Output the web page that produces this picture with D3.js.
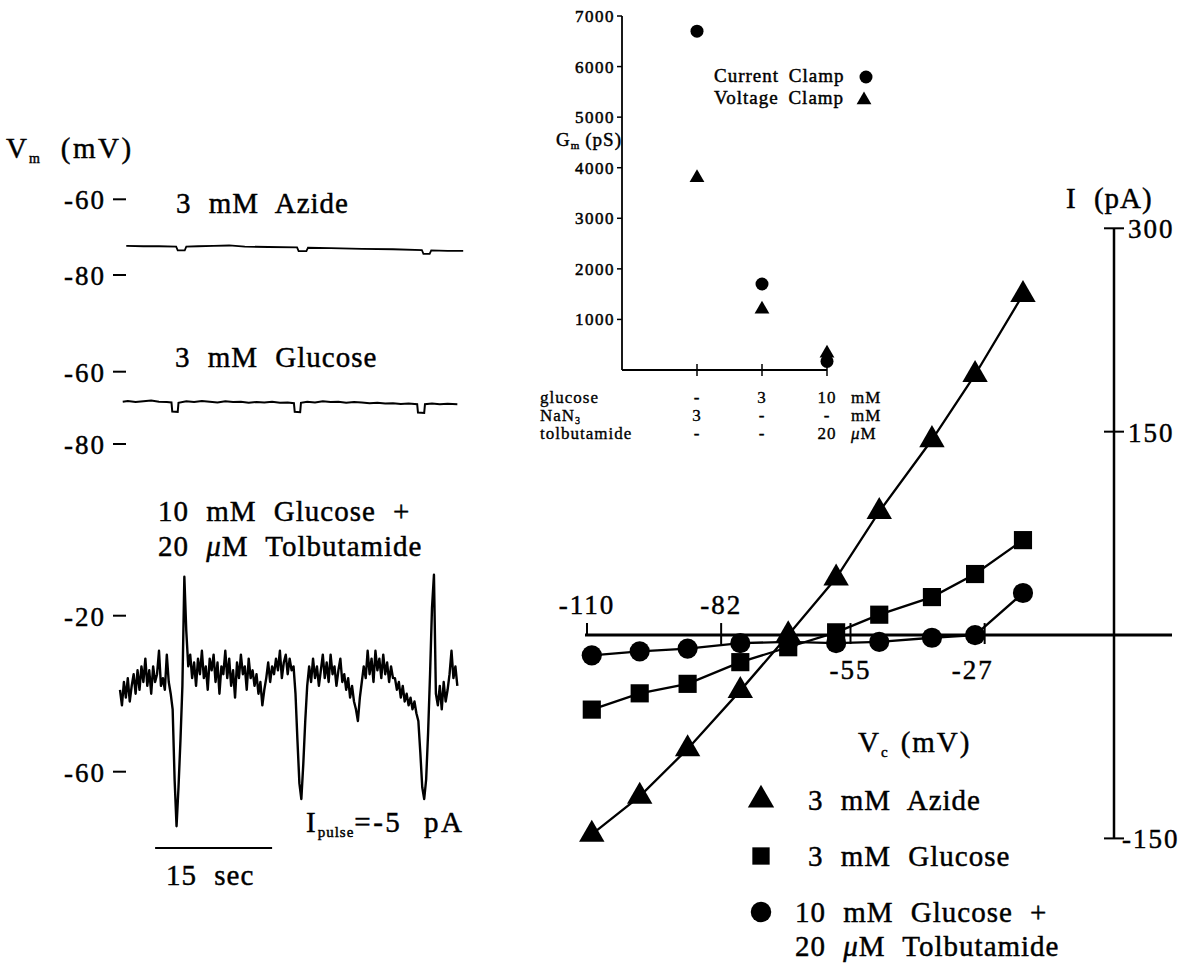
<!DOCTYPE html>
<html>
<head>
<meta charset="utf-8">
<script src="https://cdn.jsdelivr.net/npm/d3@7"></script>
<style>
  body { margin: 0; background: #fff; }
  svg { display: block; }
  text { font-family: "Liberation Serif", "Times New Roman", "DejaVu Serif", serif; fill: #000; stroke: #000; stroke-width: 0.45px; }
  .big { font-size: 29px; letter-spacing: 1px; word-spacing: 9px; }
  .num { font-size: 27px; letter-spacing: 2px; }
  .small { font-size: 19px; letter-spacing: 1px; word-spacing: 4px; }
  .table { font-size: 17px; letter-spacing: 1px; word-spacing: 3px; stroke-width: 0.35px; }
  .tick { font-size: 17px; letter-spacing: 1.5px; stroke-width: 0.5px; }
</style>
</head>
<body>
<svg id="chart" width="1202" height="964"></svg>
<script>
// ---- left panel: membrane potential traces, [time s, Vm mV] ----
const azideTrace = [[0.8,-72.3],[3,-72.4],[5,-72.4],[7.2,-72.5],[7.4,-73.5],[8.3,-73.5],[8.5,-72.5],[10,-72.4],
  [12,-72.3],[14,-72.2],[16,-72.5],[19,-72.6],[22.7,-72.7],[22.9,-73.7],[23.9,-73.7],[24.1,-72.8],[27,-72.9],
  [31,-73.1],[35,-73.2],[38.7,-73.4],[38.9,-74.4],[39.7,-74.4],[39.9,-73.5],[42,-73.6],[44,-73.6]];

const glucoseTrace = [[0.35,-68.3],[1,-68.1],[2,-68.4],[3,-68.2],[4,-68.0],[5,-68.3],[6,-68.4],[6.6,-68.5],
  [6.7,-71.0],[7.4,-71.1],[7.5,-68.6],[8.5,-68.2],[9.5,-68.4],[10.5,-68.1],[11.5,-68.3],[12.5,-68.5],[13.5,-68.2],
  [14.5,-68.4],[15.5,-68.3],[16.5,-68.6],[17.5,-68.4],[18.5,-68.5],[19.5,-68.3],[20.5,-68.6],[21.5,-68.5],
  [22.3,-68.7],[22.4,-71.1],[23.1,-71.2],[23.2,-68.6],[24,-68.3],[25,-68.5],[26,-68.2],[27,-68.4],[28,-68.3],
  [29,-68.6],[30,-68.4],[31,-68.5],[32,-68.7],[33,-68.6],[34,-68.8],[35,-68.7],[36,-68.9],[37,-68.8],
  [38.1,-69.0],[38.2,-71.3],[39,-71.4],[39.1,-69.0],[40,-68.8],[41,-69.0],[42,-68.9],[43.25,-69.0]];

// 10 mM glucose + tolbutamide, sampled every tolbStep seconds
const tolbStep = 0.25;
const tolbTrace = [
  -39,-43,-37,-41,-36,-42,-38,-35,-40,-34,-39,-33,-37,-31,-38,-34,-40,-33,-37,-35,-29,-38,-36,-39,-30,-37,-40,
  -44,-62,-74,-64,-52,-38,-10,-24,-33,
  -30,-36,-32,-38,-31,-35,-29,-36,-33,-39,-31,-34,-30,-37,-32,-40,-33,-35,-29,-36,-31,-38,-34,-41,-32,-36,-30,
  -35,-33,-39,-31,-36,-34,-38,-35,-40,-37,-43,-39,-36,-32,-37,-33,-35,-31,-34,-29,-36,-32,-30,-35,-31,-34,-33,
  -40,-52,-63,-67,-58,-47,-38,
  -33,-37,-31,-36,-33,-38,-34,-30,-36,-32,-37,-30,-35,-33,-38,-34,-31,-37,-35,-39,-36,-41,-38,-42,-44,-47,-41,
  -37,-33,-36,-29,-35,-31,-37,-29,-34,-31,-36,-30,-35,-32,-37,-33,-36,
  -36,-39,-37,-41,-38,-42,-40,-43,-41,-44,-42,-45,-47,
  -55,-64,-67,-62,-50,-35,-18,-9.5,-40,-43,
  -38,-44,-37,-42,-39,-35,-29,-36,-33,-38];

const azideTicks = [-60, -80];
const glucoseTicks = [-60, -80];
const tolbTicks = [-20, -60];
const scaleBarSec = [4.5, 19.5];

// ---- right panel: I-V relation ----
const ivVoltage = [-109, -99, -89, -78, -68, -58, -49, -38, -29, -19];
const ivAzide   = [-147, -119, -84, -41, 0, 42, 91, 144, 192, 251];
const ivGlucose = [-55, -43, -36, -20, -9, 2, 15, 28, 45, 70];
const ivTolb    = [-15, -12, -10, -6, -5, -6, -5, -2, 0, 31];
const ivXTicks = [-110, -82, -55, -27];
const ivYTicks = [300, 150, -150];

// ---- inset: membrane conductance ----
const gmConditions = ["azide", "glucose 3", "glucose 10 + tolb"];
const gmCurrentClamp = [6700, 1700, 170];
const gmVoltageClamp = [3800, 1200, 330];
const gmTicks = [1000, 2000, 3000, 4000, 5000, 6000, 7000];
const tableNames = ["glucose", "NaN", "tolbutamide"];
const tableCells = [["-", "3", "10"], ["3", "-", "-"], ["-", "-", "20"]];
const tableUnits = ["mM", "mM", "\u03bcM"];

const svg = d3.select("#chart");

// text with an italic mu
function label(g, x, y, str, cls) {
  const t = g.append("text").attr("class", cls).attr("x", x).attr("y", y);
  const parts = str.split("\u03bc");
  t.append("tspan").text(parts[0]);
  if (parts.length > 1) {
    t.append("tspan").attr("font-style", "italic").text("\u03bc");
    t.append("tspan").text(parts[1]);
  }
  return t;
}

// ===== traces =====
const tX = d3.scaleLinear().domain([0, 44]).range([120, 463.2]);
const azideY = d3.scaleLinear().domain([-80, -60]).range([275, 199.3]);
const glucoseY = d3.scaleLinear().domain([-80, -60]).range([444, 371.7]);
const tolbY = d3.scaleLinear().domain([-60, -20]).range([771.7, 615.7]);

const left = svg.append("g");

const vm = left.append("text").attr("class", "big").attr("x", 6).attr("y", 158);
vm.append("tspan").text("V");
vm.append("tspan").attr("font-size", 14).attr("dy", 5).attr("dx", 1).text("m");
vm.append("tspan").attr("dy", -5).attr("dx", 20).attr("letter-spacing", 2.5).text("(mV)");

function tickLabels(scale, ticks) {
  ticks.forEach(v => {
    left.append("text").attr("class", "num")
      .attr("x", 106).attr("y", scale(v) + 10)
      .attr("text-anchor", "end").text(v);
    left.append("line")
      .attr("x1", 113).attr("x2", 126)
      .attr("y1", scale(v)).attr("y2", scale(v))
      .attr("stroke", "#000").attr("stroke-width", 2);
  });
}
tickLabels(azideY, azideTicks);
tickLabels(glucoseY, glucoseTicks);
tickLabels(tolbY, tolbTicks);

label(left, 176, 213, "3 mM Azide", "big").attr("word-spacing", 13);
label(left, 175, 367, "3 mM Glucose", "big").attr("word-spacing", 13);
label(left, 158, 521, "10 mM Glucose +", "big");
label(left, 158, 556, "20 \u03bcM Tolbutamide", "big").attr("letter-spacing", 0.5);

left.append("path").datum(azideTrace)
  .attr("d", d3.line().x(d => tX(d[0])).y(d => azideY(d[1])))
  .attr("fill", "none").attr("stroke", "#000").attr("stroke-width", 1.8);
left.append("path").datum(glucoseTrace)
  .attr("d", d3.line().x(d => tX(d[0])).y(d => glucoseY(d[1])))
  .attr("fill", "none").attr("stroke", "#000").attr("stroke-width", 2);
left.append("path").datum(tolbTrace.map((v, i) => [i * tolbStep, v]))
  .attr("d", d3.line().x(d => tX(d[0])).y(d => tolbY(d[1])))
  .attr("fill", "none").attr("stroke", "#000").attr("stroke-width", 2.4)
  .attr("stroke-linejoin", "round");

left.append("line")
  .attr("x1", tX(scaleBarSec[0])).attr("x2", tX(scaleBarSec[1]))
  .attr("y1", 848).attr("y2", 848)
  .attr("stroke", "#000").attr("stroke-width", 2);
label(left, 166, 885, "15 sec", "big");

const ip = left.append("text").attr("class", "big").attr("x", 306).attr("y", 832);
ip.append("tspan").text("I");
ip.append("tspan").attr("font-size", 15).attr("dy", 5).attr("dx", 1).attr("letter-spacing", 1).text("pulse");
ip.append("tspan").attr("dy", -5).attr("letter-spacing", 2.5).attr("word-spacing", 12).text("=-5 pA");

// ===== inset G_m =====
const gmX = d3.scalePoint().domain(gmConditions).range([697, 827]);
const gmY = d3.scaleLinear().domain([0, 7000]).range([370, 16]);
const inset = svg.append("g");

inset.append("line").attr("x1", 622).attr("x2", 622).attr("y1", gmY(7000)).attr("y2", gmY(0))
  .attr("stroke", "#000").attr("stroke-width", 1.8);
inset.append("line").attr("x1", 622).attr("x2", gmX(gmConditions[2])).attr("y1", gmY(0)).attr("y2", gmY(0))
  .attr("stroke", "#000").attr("stroke-width", 1.8);
gmTicks.forEach(v => {
  inset.append("line").attr("x1", 617).attr("x2", 622).attr("y1", gmY(v)).attr("y2", gmY(v))
    .attr("stroke", "#000").attr("stroke-width", 1.5);
  inset.append("text").attr("class", "tick").attr("text-anchor", "end")
    .attr("x", 615).attr("y", gmY(v) + 6).text(v);
});
gmConditions.forEach(c => {
  inset.append("line").attr("x1", gmX(c)).attr("x2", gmX(c)).attr("y1", gmY(0) - 6).attr("y2", gmY(0) + 6)
    .attr("stroke", "#000").attr("stroke-width", 1.5);
});

const gl = inset.append("text").attr("class", "small").attr("font-size", 17).attr("x", 556).attr("y", 146);
gl.append("tspan").text("G");
gl.append("tspan").attr("font-size", 11).attr("dy", 3).text("m");
gl.append("tspan").attr("dy", -3).attr("dx", 5).text("(pS)");

inset.selectAll(".cc").data(gmCurrentClamp).enter().append("circle")
  .attr("cx", (d, i) => gmX(gmConditions[i])).attr("cy", d => gmY(d)).attr("r", 6.5);
inset.selectAll(".vc").data(gmVoltageClamp).enter().append("path")
  .attr("d", d3.symbol().type(d3.symbolTriangle).size(95))
  .attr("transform", (d, i) => `translate(${gmX(gmConditions[i])},${gmY(d)})`);

label(inset, 714, 82, "Current Clamp", "small");
inset.append("circle").attr("cx", 866).attr("cy", 77).attr("r", 6.5);
label(inset, 714, 104, "Voltage Clamp", "small");
inset.append("path").attr("d", d3.symbol().type(d3.symbolTriangle).size(95))
  .attr("transform", "translate(864,100)");

tableNames.forEach((name, r) => {
  const y = 403 + r * 18;
  const t = inset.append("text").attr("class", "table").attr("x", 540).attr("y", y);
  t.append("tspan").text(name);
  if (name === "NaN") t.append("tspan").attr("font-size", 10).attr("dy", 3).text("3");
  tableCells[r].forEach((c, j) => {
    inset.append("text").attr("class", "table").attr("text-anchor", "middle")
      .attr("x", gmX(gmConditions[j])).attr("y", y).text(c);
  });
  label(inset, 851, y, tableUnits[r], "table");
});

// ===== I-V plot =====
const ivX = d3.scaleLinear().domain([-110, 0]).range([587, 1114]);
const ivY = d3.scaleLinear().domain([-150, 300]).range([838.4, 228.3]);
const iv = svg.append("g");

iv.append("line").attr("x1", ivX(-110) - 2).attr("x2", 1172).attr("y1", ivY(0)).attr("y2", ivY(0))
  .attr("stroke", "#000").attr("stroke-width", 3);
iv.append("line").attr("x1", ivX(0)).attr("x2", ivX(0)).attr("y1", ivY(300)).attr("y2", ivY(-150))
  .attr("stroke", "#000").attr("stroke-width", 2.5);

ivXTicks.forEach((v, i) => {
  iv.append("line").attr("x1", ivX(v)).attr("x2", ivX(v))
    .attr("y1", ivY(0) - 12).attr("y2", i === 0 ? ivY(0) : ivY(0) + 9)
    .attr("stroke", "#000").attr("stroke-width", 2);
  const above = v < -70;
  iv.append("text").attr("class", "num").attr("text-anchor", "middle")
    .attr("x", ivX(v) + (v === -27 ? -12 : 0))
    .attr("y", above ? ivY(0) - 21 : ivY(0) + 44)
    .text(v);
});
ivYTicks.forEach(v => {
  iv.append("line").attr("x1", ivX(0) - 10).attr("x2", ivX(0) + 10).attr("y1", ivY(v)).attr("y2", ivY(v))
    .attr("stroke", "#000").attr("stroke-width", 2);
  iv.append("text").attr("class", "num")
    .attr("x", ivX(0) + (v < 0 ? 8 : 14)).attr("y", ivY(v) + 10).text(v);
});
label(iv, 1066, 208, "I (pA)", "big").attr("word-spacing", 24).attr("letter-spacing", 2);
const vc = iv.append("text").attr("class", "big").attr("x", 858).attr("y", 752);
vc.append("tspan").text("V");
vc.append("tspan").attr("font-size", 15).attr("dy", 5).attr("dx", 1).text("c");
vc.append("tspan").attr("dy", -5).attr("dx", 12).attr("letter-spacing", 2).text("(mV)");

const ivSeries = [
  { values: ivAzide, type: d3.symbolTriangle, size: 280 },
  { values: ivGlucose, type: d3.symbolSquare, size: 330 },
  { values: ivTolb, type: d3.symbolCircle, size: 320 }
];
const ivLine = d3.line().x(d => ivX(d[0])).y(d => ivY(d[1]));
ivSeries.forEach(s => {
  const pts = ivVoltage.map((v, i) => [v, s.values[i]]);
  iv.append("path").datum(pts).attr("d", ivLine)
    .attr("fill", "none").attr("stroke", "#000").attr("stroke-width", 2.3);
});
ivSeries.forEach(s => {
  const pts = ivVoltage.map((v, i) => [v, s.values[i]]);
  iv.selectAll(null).data(pts).enter().append("path")
    .attr("d", d3.symbol().type(s.type).size(s.size))
    .attr("transform", d => `translate(${ivX(d[0])},${ivY(d[1])})`);
});

// legend
const legendItems = [
  { type: d3.symbolTriangle, size: 300, y: 800, lines: ["3 mM Azide"] },
  { type: d3.symbolSquare, size: 300, y: 856, lines: ["3 mM Glucose"] },
  { type: d3.symbolCircle, size: 330, y: 912, lines: ["10 mM Glucose +", "20 \u03bcM Tolbutamide"] }
];
legendItems.forEach(item => {
  iv.append("path").attr("d", d3.symbol().type(item.type).size(item.size))
    .attr("transform", `translate(761,${item.y})`);
  item.lines.forEach((ln, k) => {
    label(iv, item.lines.length > 1 ? 795 : 808, item.y + 10 + k * 34, ln, "big");
  });
});
</script>
</body>
</html>
